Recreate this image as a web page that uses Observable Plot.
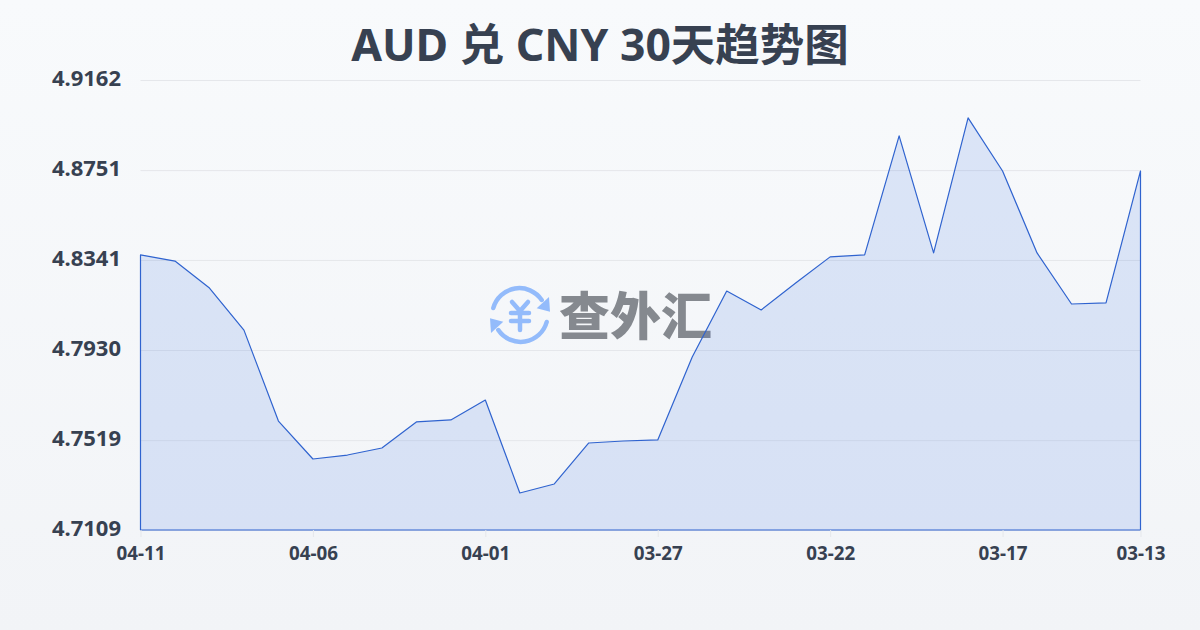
<!DOCTYPE html>
<html><head><meta charset="utf-8">
<script src="https://cdn.jsdelivr.net/npm/d3@7"></script>
<script src="https://cdn.jsdelivr.net/npm/@observablehq/plot@0.6"></script>
<style>
html,body{margin:0;padding:0;width:1200px;height:630px;overflow:hidden}
body{background:linear-gradient(180deg,#f8fafc,#f2f4f7);font-family:"Noto Sans","Noto Sans CJK SC",sans-serif;position:relative}
#title{position:absolute;left:0;top:14px;width:1200px;text-align:center;font-size:44.5px;font-weight:700;color:#374151;line-height:60px}
#mark{position:absolute;left:488px;top:284px;width:64px;height:62px}
#wm{position:absolute;left:559px;top:275px;font-family:"Noto Sans CJK SC";font-size:51px;font-weight:900;color:#85898f;line-height:76px}
#chart{position:absolute;left:0;top:40px}
#chart svg{background:transparent;display:block}
</style></head><body>
<div id="title">AUD 兑 CNY 30天趋势图</div>
<svg id="mark" viewBox="0 0 64 62" fill="none" stroke="#93bbfb" stroke-width="4.5" stroke-linecap="round">
<path d="M5.3 24 A27 27 0 0 1 53.7 16"/><path d="M58.7 38 A27 27 0 0 1 10.3 46"/>
<path d="M61 13 L62 27.7 L48.7 24.3 Z" fill="#93bbfb" stroke="none"/><path d="M3 49 L2 34.3 L15.3 37.7 Z" fill="#93bbfb" stroke="none"/>
<path d="M24 18 L32 27 L40 18 M23 29 H41 M23 37 H41 M32 27 V46" stroke-width="4.5"/>
</svg>
<div id="wm">查外汇</div>
<div id="chart"></div>
<script>
const dates = ["04-11","04-10","04-09","04-08","04-07","04-06","04-05","04-04","04-03","04-02","04-01","03-31","03-30","03-29","03-28","03-27","03-26","03-25","03-24","03-23","03-22","03-21","03-20","03-19","03-18","03-17","03-16","03-15","03-14","03-13"];
const rates = [4.8364,4.8336,4.8213,4.8021,4.7606,4.7433,4.7451,4.7483,4.7602,4.7611,4.7702,4.7278,4.7319,4.7506,4.7515,4.7520,4.7898,4.8199,4.8113,4.8236,4.8355,4.8364,4.8907,4.8373,4.8989,4.8747,4.8373,4.8140,4.8145,4.8747];
const yTicks = [4.7109,4.7519,4.7930,4.8341,4.8751,4.9162];
const xTicks = ["04-11","04-06","04-01","03-27","03-22","03-17","03-13"];
const yMin = 4.7109, yMax = 4.9162;
const rows = dates.map((d,i)=>({date:d,rate:rates[i]}));
const font = '"Noto Sans","Noto Sans CJK SC",sans-serif';
const plot = Plot.plot({
  width:1200,height:540,marginTop:40,marginBottom:50,marginLeft:140.5,marginRight:59.5,
  style:{background:"transparent",fontFamily:font},
  x:{type:"point",domain:dates,padding:0,round:false,label:null},
  y:{domain:[yMin,yMax],label:null},
  marks:[
    Plot.ruleY(yTicks,{stroke:"#e5e7eb",strokeWidth:1}),
    Plot.areaY(rows,{x:"date",y1:()=>yMin,y2:"rate",fill:"#3068e0",fillOpacity:0.14,stroke:"#2f63cf",strokeWidth:1.2,curve:"linear"}),
    Plot.axisX(xTicks,{anchor:"bottom",tickSize:7,tickPadding:9,stroke:"#e5e7eb",fill:"#374151",fontSize:18.8,fontWeight:700,label:null}),
    Plot.axisY(yTicks,{anchor:"left",tickSize:0,tickPadding:20,dy:-2,tickFormat:d=>d.toFixed(4),fill:"#374151",fontSize:22,fontWeight:700,label:null})
  ]
});
document.getElementById("chart").append(plot);
</script>
</body></html>
